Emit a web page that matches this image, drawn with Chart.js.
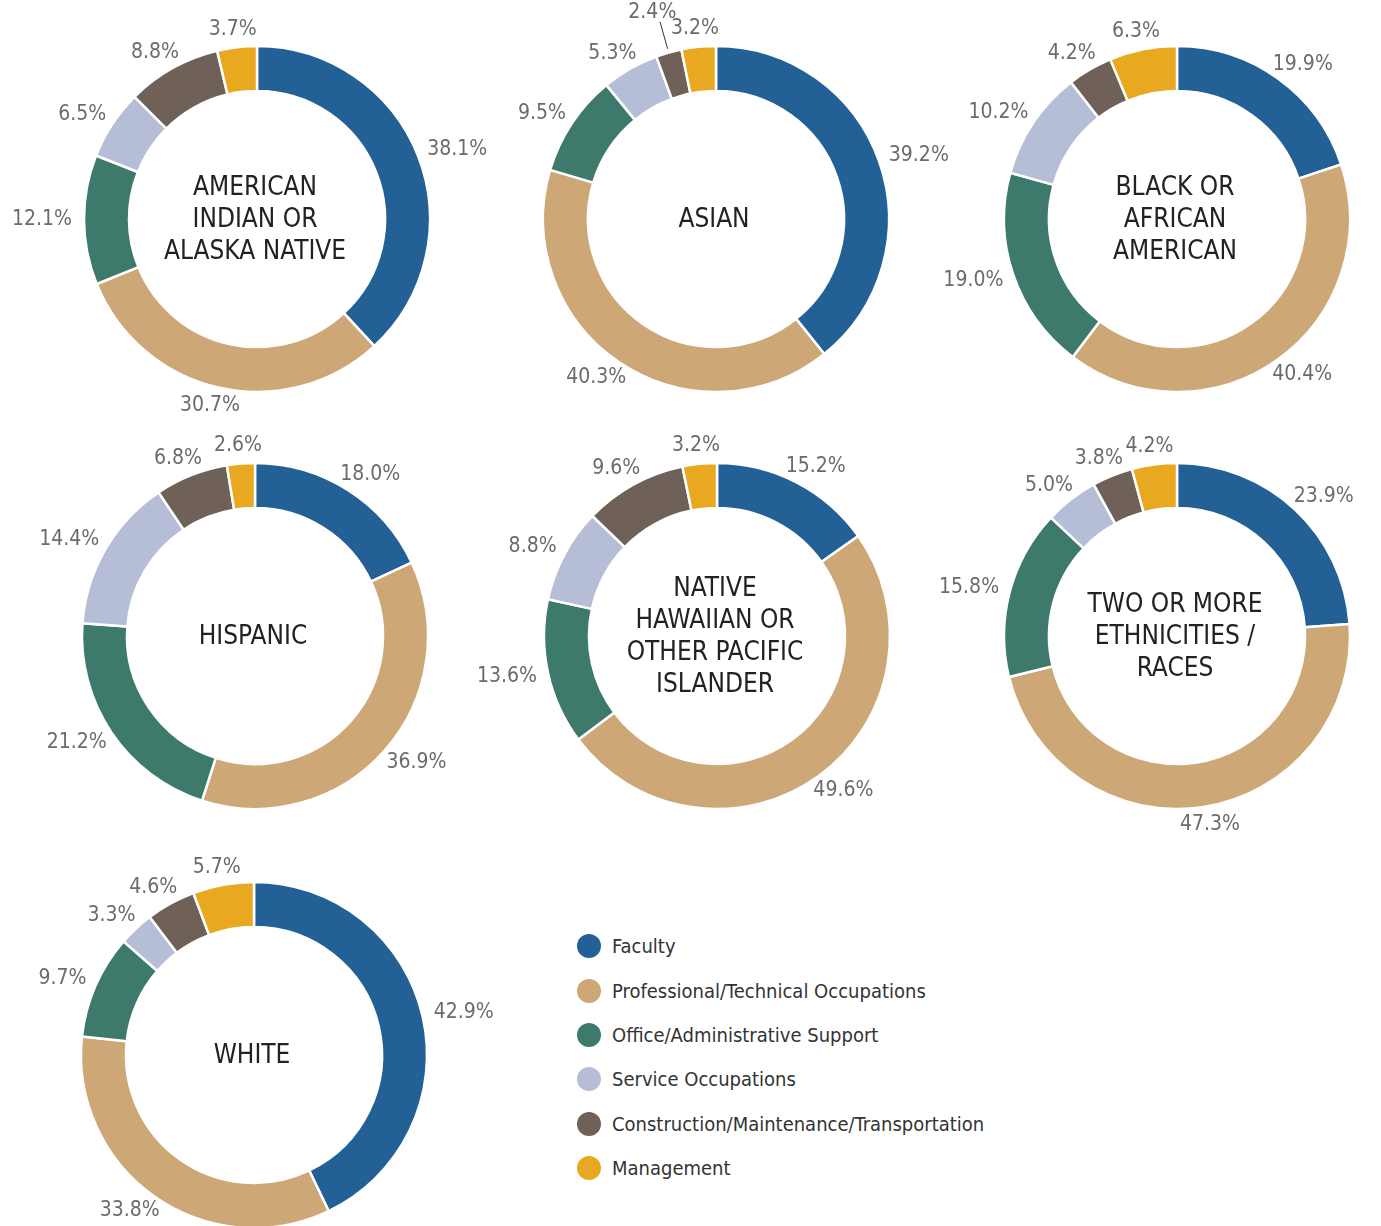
<!DOCTYPE html>
<html>
<head>
<meta charset="utf-8">
<script src="https://cdn.jsdelivr.net/npm/chart.js@4"></script>
<style>
  html, body { margin: 0; padding: 0; background: #fff; }
  body { width: 1381px; height: 1226px; position: relative; overflow: hidden;
         font-family: "Liberation Sans Narrow", "DejaVu Sans Condensed", sans-serif; }
  canvas { position: absolute; }
  #leyenda { position: absolute; left: 577px; top: 924px; }
  .fila { height: 44.4px; display: flex; align-items: center; font-size: 20px; color: #333; }
  .punto { width: 24px; height: 24px; border-radius: 50%; margin-right: 11px; }
</style>
</head>
<body>
<div id="leyenda"></div>
<script>
const categorias = ['Faculty', 'Professional/Technical Occupations', 'Office/Administrative Support',
  'Service Occupations', 'Construction/Maintenance/Transportation', 'Management'];
const colores = ['#236096', '#CEA776', '#3D7A6C', '#B6BDD7', '#6F6157', '#E8A920'];

const titulos = [
  ['AMERICAN', 'INDIAN OR', 'ALASKA NATIVE'],
  ['ASIAN'],
  ['BLACK OR', 'AFRICAN', 'AMERICAN'],
  ['HISPANIC'],
  ['NATIVE', 'HAWAIIAN OR', 'OTHER PACIFIC', 'ISLANDER'],
  ['TWO OR MORE', 'ETHNICITIES /', 'RACES'],
  ['WHITE']
];

const indioAlaska = [38.1, 30.7, 12.1, 6.5, 8.8, 3.7];
const asiatico = [39.2, 40.3, 9.5, 5.3, 2.4, 3.2];
const negro = [19.9, 40.4, 19.0, 10.2, 4.2, 6.3];
const hispano = [18.0, 36.9, 21.2, 14.4, 6.8, 2.6];
const hawaiano = [15.2, 49.6, 13.6, 8.8, 9.6, 3.2];
const dosOMas = [23.9, 47.3, 15.8, 5.0, 3.8, 4.2];
const blanco = [42.9, 33.8, 9.7, 3.3, 4.6, 5.7];

const series = [indioAlaska, asiatico, negro, hispano, hawaiano, dosOMas, blanco];

// centros de cada dona en la página
const centros = [[257, 219], [716, 219], [1177, 219], [255, 636], [717, 636], [1177, 636], [254, 1055]];
const ANCHO = 600, ALTO = 520;
const FUENTE = '"Liberation Sans Narrow", "DejaVu Sans Condensed", sans-serif';

const etiquetas = {
  id: 'etiquetas',
  afterDatasetsDraw(chart) {
    const ctx = chart.ctx;
    const meta = chart.getDatasetMeta(0);
    const valores = chart.data.datasets[0].data;
    ctx.save();
    ctx.font = '300 21px ' + FUENTE;
    ctx.textAlign = 'center';
    ctx.textBaseline = 'middle';
    const puestas = [];
    const orden = valores.map((v, i) => i).sort((a, b) => valores[b] - valores[a]);
    orden.forEach(i => {
      const arco = meta.data[i];
      const cx = arco.x, cy = arco.y, r = arco.outerRadius;
      const medio = (arco.startAngle + arco.endAngle) / 2;
      const texto = valores[i].toFixed(1) + '%';
      const w = ctx.measureText(texto).width, h = 16;
      const dx = Math.cos(medio), dy = Math.sin(medio);
      let dist = r + 10, x, y, caja, extra = false;
      for (let k = 0; k < 40; k++) {
        x = cx + (dist + w / 2 + 2) * dx;
        y = cy + (dist + h / 2) * dy;
        caja = [x - w / 2, y - h / 2, x + w / 2, y + h / 2];
        const choca = puestas.some(b => caja[0] < b[2] && caja[2] > b[0] && caja[1] < b[3] && caja[3] > b[1]);
        if (!choca) break;
        dist += 2; extra = true;
      }
      puestas.push(caja);
      if (extra) {
        ctx.strokeStyle = '#333';
        ctx.lineWidth = 1;
        ctx.beginPath();
        ctx.moveTo(cx + (r + 4) * dx, cy + (r + 4) * dy);
        ctx.lineTo(cx + (dist - 2) * dx, cy + (dist - 2) * dy);
        ctx.stroke();
      }
      ctx.fillStyle = '#6b6b6b';
      ctx.fillText(texto, x, y);
    });
    // título al centro
    const lineas = chart.options.plugins.centro.lineas;
    const a0 = meta.data[0];
    ctx.font = '400 26px ' + FUENTE;
    ctx.fillStyle = '#222';
    const alto = 32;
    lineas.forEach((l, j) => {
      ctx.fillText(l, a0.x - 2, a0.y + (j - (lineas.length - 1) / 2) * alto + 1);
    });
    ctx.restore();
  }
};

series.forEach((datos, n) => {
  const lienzo = document.createElement('canvas');
  lienzo.width = ANCHO;
  lienzo.height = ALTO;
  lienzo.style.left = (centros[n][0] - ANCHO / 2) + 'px';
  lienzo.style.top = (centros[n][1] - ALTO / 2) + 'px';
  document.body.appendChild(lienzo);
  new Chart(lienzo.getContext('2d'), {
    type: 'doughnut',
    data: {
      labels: categorias,
      datasets: [{
        data: datos,
        backgroundColor: colores,
        borderColor: '#fff',
        borderWidth: 2.5,
        radius: 173,
        cutout: '74%'
      }]
    },
    options: {
      responsive: false,
      animation: false,
      events: [],
      plugins: {
        legend: { display: false },
        tooltip: { enabled: false },
        centro: { lineas: titulos[n] }
      }
    },
    plugins: [etiquetas]
  });
});

const leyenda = document.getElementById('leyenda');
categorias.forEach((c, i) => {
  const fila = document.createElement('div');
  fila.className = 'fila';
  fila.innerHTML = '<span class="punto" style="background:' + colores[i] + '"></span><span>' + c + '</span>';
  leyenda.appendChild(fila);
});
</script>
</body>
</html>
